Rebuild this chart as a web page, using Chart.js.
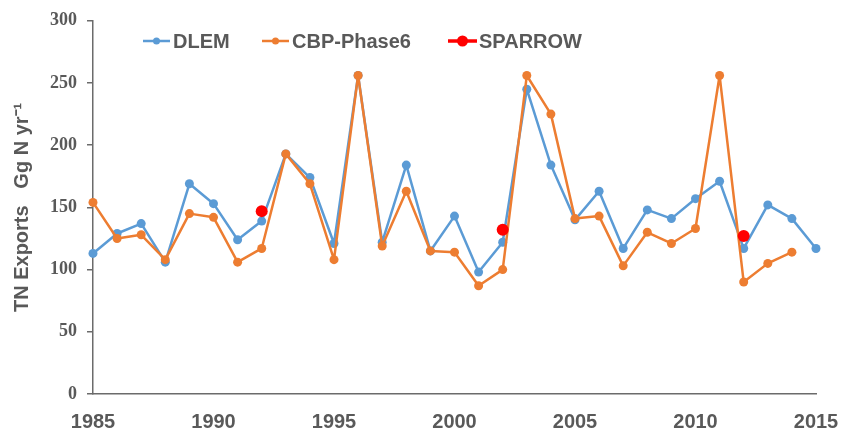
<!DOCTYPE html>
<html>
<head>
<meta charset="utf-8">
<script src="https://cdn.jsdelivr.net/npm/chart.js@4/dist/chart.umd.min.js"></script>
<style>
html,body{margin:0;padding:0;background:#fff;}
#wrap{width:842px;height:429px;}
</style>
</head>
<body>
<div id="wrap"><canvas id="c" width="842" height="429"></canvas></div>
<script>
const years = [1985,1986,1987,1988,1989,1990,1991,1992,1993,1994,1995,1996,1997,1998,1999,2000,2001,2002,2003,2004,2005,2006,2007,2008,2009,2010,2011,2012,2013,2014,2015];
const dlem = [113,129,137,106,169,153,124,139,193,174,121,256,122,184,115,143,98,122,245,184,140,163,117,148,141,157,171,117,152,141,117];
const cbp = [154,125,128,108,145,142,106,117,193,169,108,256,119,163,115,114,87,100,256,225,141,143,103,130,121,133,256,90,105,114];
const sparrowYears = [1992,2002,2012];
const sparrow = [147,132,127];
const yTicks = [0,50,100,150,200,250,300];
const xTicks = [1985,1990,1995,2000,2005,2010,2015];
const seriesNames = ['DLEM','CBP-Phase6','SPARROW'];

const BLUE = '#5B9BD5', ORANGE = '#ED7D31', RED = '#FF0000', GREY = '#595959';

const toPts = (xs, ys) => ys.map((v, i) => ({x: xs[i], y: v}));

const legendPlugin = {
  id: 'customLegend',
  afterDraw(chart) {
    const ctx = chart.ctx;
    const items = [
      {name: seriesNames[0], color: BLUE, x0: 143, x1: 170, r: 3.5, lw: 2.5, tx: 173},
      {name: seriesNames[1], color: ORANGE, x0: 262, x1: 289, r: 3.5, lw: 2.5, tx: 292},
      {name: seriesNames[2], color: RED, x0: 448, x1: 477, r: 5.5, lw: 3.5, tx: 479}
    ];
    const y = 41;
    ctx.save();
    items.forEach(it => {
      ctx.strokeStyle = it.color;
      ctx.lineWidth = it.lw;
      ctx.beginPath();
      ctx.moveTo(it.x0, y);
      ctx.lineTo(it.x1, y);
      ctx.stroke();
      ctx.fillStyle = it.color;
      ctx.beginPath();
      ctx.arc((it.x0 + it.x1) / 2, y, it.r, 0, Math.PI * 2);
      ctx.fill();
      ctx.fillStyle = GREY;
      ctx.font = 'bold 20px "Liberation Sans", Arial, sans-serif';
      ctx.textBaseline = 'alphabetic';
      ctx.textAlign = 'left';
      ctx.fillText(it.name, it.tx, 48);
    });
    ctx.restore();
  }
};

new Chart(document.getElementById('c'), {
  type: 'line',
  data: {
    datasets: [
      {label: seriesNames[2], data: toPts(sparrowYears, sparrow), showLine: false, clip: false,
       backgroundColor: RED, borderColor: RED, pointRadius: 6, pointHoverRadius: 6, pointBorderWidth: 0},
      {label: seriesNames[1], data: toPts(years, cbp), borderColor: ORANGE, backgroundColor: ORANGE, clip: false,
       borderWidth: 2.5, borderJoinStyle: 'round', pointRadius: 4.5, pointBorderWidth: 0, tension: 0},
      {label: seriesNames[0], data: toPts(years, dlem), borderColor: BLUE, backgroundColor: BLUE, clip: false,
       borderWidth: 2.5, borderJoinStyle: 'round', pointRadius: 4.5, pointBorderWidth: 0, tension: 0}
    ]
  },
  options: {
    responsive: false,
    animation: false,
    layout: {padding: {left: 0, right: 0, top: 20, bottom: 0}},
    plugins: {legend: {display: false}, tooltip: {enabled: false}},
    scales: {
      x: {
        type: 'linear', min: 1985, max: 2015,
        afterBuildTicks: s => { s.ticks = xTicks.map(v => ({value: v})); },
        afterFit: s => { s.height = 35; s.paddingRight = 26; s.paddingLeft = 0; },
        grid: {display: false},
        border: {display: true, color: '#6b6b6b', width: 1.5},
        ticks: {
          color: GREY, padding: 8, maxRotation: 0,
          font: {family: '"Liberation Sans", Arial, sans-serif', weight: 'bold', size: 20},
          callback: v => String(v)
        }
      },
      y: {
        min: 0, max: 300,
        afterBuildTicks: s => { s.ticks = yTicks.map(v => ({value: v})); },
        afterFit: s => { s.width = 93; },
        grid: {drawOnChartArea: false, drawTicks: true, tickLength: 6, color: '#6b6b6b', lineWidth: 1.5},
        border: {display: true, color: '#6b6b6b', width: 1.5},
        ticks: {
          color: GREY, padding: 10,
          font: {family: '"Liberation Serif", "Times New Roman", serif', weight: 'bold', size: 18}
        },
        title: {
          display: true, text: 'TN Exports   Gg N yr\u207B\u00B9', color: GREY,
          font: {family: '"Liberation Sans", Arial, sans-serif', weight: 'bold', size: 20},
          padding: {top: 10, bottom: 0}
        }
      }
    }
  },
  plugins: [legendPlugin]
});
</script>
</body>
</html>
